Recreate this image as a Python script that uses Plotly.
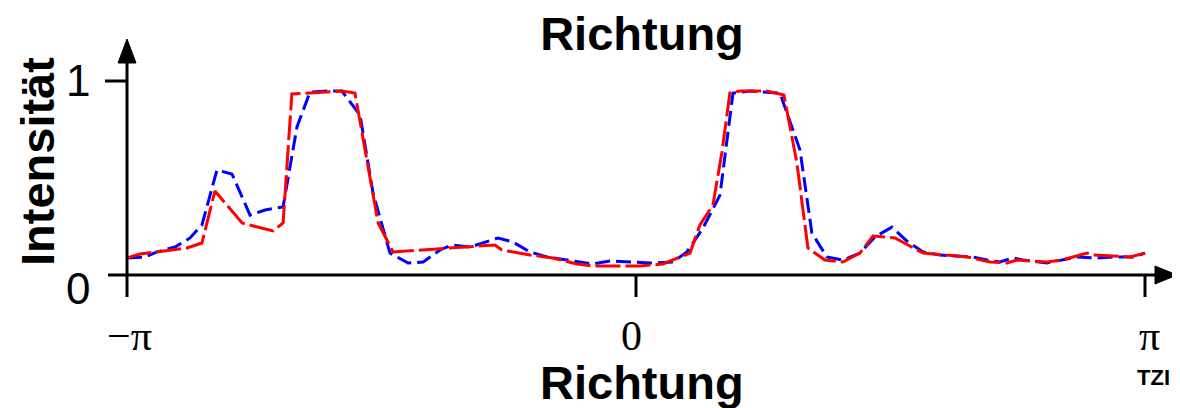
import numpy as np
import plotly.graph_objects as go

# ---- data (angle in degrees, intensity 0..1) ----
blue_deg = [-180.0, -173.6, -169.4, -163.0, -157.7, -153.5, -148.2, -142.9, -136.5, -131.2,
            -124.8, -119.9, -115.3, -109.3, -104.0, -97.6, -93.0, -87.0, -80.6, -75.3,
            -69.3, -65.1, -58.7, -54.1, -48.8, -43.5, -37.5, -31.5, -24.4, -15.2,
            -9.2, -2.1, 5.0, 13.1, 18.0, 23.7, 29.7, 34.3, 40.3, 50.9,
            58.0, 62.2, 67.5, 73.2, 79.2, 84.5, 90.5, 95.8, 101.5, 107.5,
            113.5, 119.2, 124.1, 128.7, 133.3, 136.9, 145.3, 150.6, 156.0, 163.0,
            168.7, 175.8, 180.0]
blue_val = [0.088, 0.093, 0.119, 0.144, 0.191, 0.258, 0.541, 0.521, 0.309, 0.335,
            0.351, 0.763, 0.943, 0.948, 0.948, 0.825, 0.423, 0.113, 0.062, 0.067,
            0.129, 0.155, 0.144, 0.165, 0.191, 0.170, 0.119, 0.093, 0.077, 0.057,
            0.072, 0.067, 0.062, 0.067, 0.119, 0.242, 0.412, 0.938, 0.948, 0.938,
            0.644, 0.216, 0.093, 0.077, 0.113, 0.196, 0.247, 0.175, 0.119, 0.103,
            0.098, 0.093, 0.077, 0.067, 0.088, 0.077, 0.062, 0.077, 0.093, 0.088,
            0.093, 0.093, 0.113]

red_deg = [-180.0, -175.4, -158.8, -153.5, -148.9, -139.3, -128.4, -124.8, -121.7, -104.0,
           -99.4, -91.2, -85.9, -49.9, -47.4, -37.5, -29.4, -20.9, -15.2, 1.4,
           9.5, 14.5, 19.1, 22.6, 27.2, 30.4, 33.2, 36.8, 46.3, 52.3,
           56.9, 60.8, 66.8, 73.2, 79.2, 83.8, 91.6, 101.5, 110.0, 117.1,
           125.2, 131.2, 134.7, 145.3, 150.6, 159.5, 161.6, 174.7, 180.0]
red_val = [0.088, 0.108, 0.139, 0.165, 0.433, 0.268, 0.227, 0.268, 0.933, 0.948,
           0.938, 0.268, 0.119, 0.155, 0.129, 0.103, 0.088, 0.057, 0.046, 0.046,
           0.057, 0.088, 0.113, 0.258, 0.361, 0.634, 0.938, 0.948, 0.948, 0.928,
           0.577, 0.139, 0.077, 0.067, 0.113, 0.201, 0.191, 0.113, 0.103, 0.093,
           0.067, 0.062, 0.077, 0.067, 0.077, 0.113, 0.103, 0.093, 0.113]

x_tickvals = [-np.pi, 0.0, np.pi]
x_ticktext = ["\u2212\u03c0", "0", "\u03c0"]
y_tickvals = [0, 1]
y_ticktext = ["0", "1"]
title_text = "Richtung"
xlabel_text = "Richtung"
ylabel_text = "Intensität"

# ---- geometry (targets given in screen pixels; page body adds 8px offset) ----
OFF = 8
W, H = 1180 - OFF, 408 - OFF          # keep the page within the window (no scrollbars)
ML, MR, MT, MB = 92, 0, 22, 98
PW, PH = W - ML - MR, H - MT - MB
px_per_rad = 1018 / (2 * np.pi)       # -pi at 127 px, pi at 1145 px (screen)
x0 = -np.pi - (127 - OFF - ML) / px_per_rad
x1 = x0 + PW / px_per_rad
px_per_unit = 194.0                   # 0 at 275 px, 1 at 81 px (screen)
y0 = -(MT + PH - (275 - OFF)) / px_per_unit
y1 = y0 + PH / px_per_unit

def xd(px):  # screen pixel -> data x
    return x0 + (px - OFF - ML) / px_per_rad

def yd(py):  # screen pixel -> data y
    return y0 + (MT + PH - (py - OFF)) / px_per_unit

def xp(px):  # screen pixel -> paper x
    return (px - OFF - ML) / PW

def yp(py):  # screen pixel -> paper y
    return (MT + PH - (py - OFF)) / PH

fig = go.Figure()
fig.add_trace(go.Scatter(x=np.deg2rad(blue_deg), y=blue_val, mode="lines",
                         line=dict(color="#0000FF", width=3, dash="15px,6px"),
                         showlegend=False, hoverinfo="skip"))
fig.add_trace(go.Scatter(x=np.deg2rad(red_deg), y=red_val, mode="lines",
                         line=dict(color="#FF0000", width=3, dash="25px,5px"),
                         showlegend=False, hoverinfo="skip"))

black = dict(color="black", width=3)
shapes = []
# y axis line (extends below x axis as the -pi tick)
shapes.append(dict(type="line", xref="x", yref="y", x0=-np.pi, x1=-np.pi,
                   y0=yd(297), y1=yd(60), line=black))
# y arrow head
shapes.append(dict(type="path", xref="x", yref="y",
                   path=f"M {-np.pi},{yd(39)} L {xd(118)},{yd(63)} L {xd(136)},{yd(63)} Z",
                   fillcolor="black", line=dict(color="black", width=1)))
# x axis line
shapes.append(dict(type="line", xref="x", yref="y", x0=xd(108), x1=xd(1158),
                   y0=0, y1=0, line=black))
# x arrow head
shapes.append(dict(type="path", xref="x", yref="y",
                   path=f"M {xd(1177)},0 L {xd(1155)},{yd(266)} L {xd(1155)},{yd(284)} Z",
                   fillcolor="black", line=dict(color="black", width=1)))
# x ticks at 0 and pi
for tv in x_tickvals[1:]:
    shapes.append(dict(type="line", xref="x", yref="y", x0=tv, x1=tv,
                       y0=0, y1=yd(297), line=black))
# y tick at 1
shapes.append(dict(type="line", xref="x", yref="y", x0=xd(105), x1=-np.pi,
                   y0=1, y1=1, line=black))
# logo red blocks (bottom-right watermark)
for (a, b) in [(369, 376), (380, 387), (400, 408)]:
    shapes.append(dict(type="rect", xref="paper", yref="paper",
                       x0=xp(1173), x1=xp(1180), y0=yp(b), y1=yp(a),
                       fillcolor="#FF0000", line=dict(width=0)))

annotations = []
# x tick labels (serif)
x_label_px = [129, 631, 1149]
for px, t in zip(x_label_px, x_ticktext):
    annotations.append(dict(x=xp(px), y=yp(336), xref="paper", yref="paper", text=t,
                            showarrow=False, xanchor="center", yanchor="middle",
                            font=dict(family="Liberation Serif", size=42, color="black")))
# y tick labels
y_label_py = [288, 80]
for py, t in zip(y_label_py, y_ticktext):
    annotations.append(dict(x=xp(92), y=yp(py), xref="paper", yref="paper", text=t,
                            showarrow=False, xanchor="right", yanchor="middle",
                            font=dict(family="Liberation Sans", size=44, color="black")))
# bottom x label
annotations.append(dict(x=xp(642), y=yp(382), xref="paper", yref="paper",
                        text=f"<b>{xlabel_text}</b>", showarrow=False,
                        xanchor="center", yanchor="middle",
                        font=dict(family="Liberation Sans", size=47, color="black")))
# y label
annotations.append(dict(x=xp(37), y=yp(162), xref="paper", yref="paper",
                        text=f"<b>{ylabel_text}</b>", showarrow=False, textangle=-90,
                        xanchor="center", yanchor="middle",
                        font=dict(family="Liberation Sans", size=47, color="black")))
# logo text (watermark, bottom-right corner)
annotations.append(dict(x=xp(1153), y=yp(377), xref="paper", yref="paper",
                        text="<b>TZI</b>", showarrow=False,
                        xanchor="center", yanchor="middle",
                        font=dict(family="Liberation Sans", size=22, color="black")))

fig.update_layout(
    width=W, height=H,
    margin=dict(l=ML, r=MR, t=MT, b=MB, pad=0),
    paper_bgcolor="white", plot_bgcolor="white",
    title=dict(text=f"<b>{title_text}</b>", x=(642 - OFF) / W, y=1 - (34 - OFF) / H,
               xref="container", yref="container", xanchor="center", yanchor="middle",
               font=dict(family="Liberation Sans", size=47, color="black")),
    xaxis=dict(range=[x0, x1], visible=False, fixedrange=True),
    yaxis=dict(range=[y0, y1], visible=False, fixedrange=True),
    shapes=shapes, annotations=annotations, showlegend=False,
)

fig.write_html("out.html")
